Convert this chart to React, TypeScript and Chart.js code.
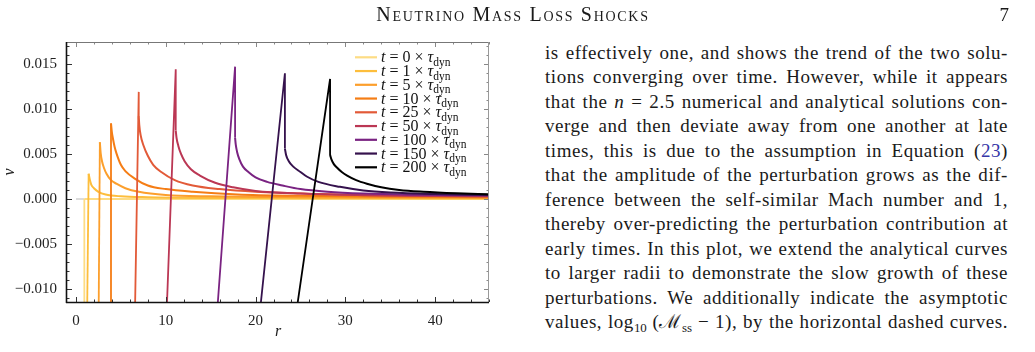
import React, { useEffect, useRef } from "react";
import { Chart, registerables } from "chart.js";

Chart.register(...registerables);

// ---------- data ----------
const TIME_LABELS = ["0", "1", "5", "10", "25", "50", "100", "150", "200"];
const COLORS = ["#fddc84", "#fdbe3c", "#fc9f2c", "#f57d15", "#e25a38", "#bb3754", "#7a2382", "#35124d", "#000000"];

const X_TICKS = [0, 10, 20, 30, 40];
const Y_TICKS = [-0.01, -0.005, 0, 0.005, 0.01, 0.015];
const Y_TICK_LABELS = ["\u22120.010", "\u22120.005", "0.000", "0.005", "0.010", "0.015"];

const PRE_R = [0, 0.93];
const PRE_V = [0, 0];

const T0_SPIKE_R = [0.93, 0.93];
const T0_SPIKE_V = [-0.012, 0];
const T0_R = [0.93, 46];
const T0_V = [0, 0];

const T1_SPIKE_R = [1.25, 1.41];
const T1_SPIKE_V = [-0.012, 0.0028];
const T1_R = [1.41, 1.55, 1.7, 2.0, 2.5, 3.3, 5, 8, 15, 30, 46];
const T1_V = [0.0028, 0.0021, 0.0016, 0.0012, 0.0008, 0.0005, 0.0003, 0.0002, 0.00012, 0.00008, 0.00006];

const T5_SPIKE_R = [2.53, 2.66];
const T5_SPIKE_V = [-0.012, 0.0063];
const T5_R = [2.66, 2.75, 2.9, 3.1, 3.4, 3.9, 4.5, 5.5, 7, 10, 15, 25, 46];
const T5_V = [0.0063, 0.0051, 0.0042, 0.0035, 0.0028, 0.0021, 0.0017, 0.0012, 0.0008, 0.00045, 0.0003, 0.0002, 0.00013];

const T10_SPIKE_R = [3.82, 3.9];
const T10_SPIKE_V = [-0.012, 0.0084];
const T10_R = [3.9, 4.0, 4.1, 4.3, 4.5, 5.0, 5.5, 6.5, 8, 10, 13, 18, 25, 35, 46];
const T10_V = [0.0084, 0.0074, 0.0068, 0.0058, 0.0051, 0.0038, 0.0031, 0.0023, 0.0015, 0.0011, 0.0008, 0.0005, 0.00035, 0.00025, 0.0002];

const T25_SPIKE_R = [6.58, 6.99, 6.99];
const T25_SPIKE_V = [-0.012, 0.0119, 0.0092];
const T25_R = [6.99, 7.05, 7.2, 7.5, 8, 8.6, 9.5, 11, 13, 16, 20, 27, 35, 46];
const T25_V = [0.0092, 0.0082, 0.0071, 0.006, 0.0048, 0.0038, 0.003, 0.0021, 0.0015, 0.0011, 0.0008, 0.00055, 0.0004, 0.0003];

const T50_SPIKE_R = [10.12, 11.11, 11.11];
const T50_SPIKE_V = [-0.012, 0.0144, 0.0076];
const T50_R = [11.11, 11.2, 11.4, 11.7, 12.1, 12.8, 13.8, 15.5, 17.5, 20, 25, 32, 40, 46];
const T50_V = [0.0076, 0.0068, 0.0059, 0.005, 0.0042, 0.0033, 0.0026, 0.0018, 0.0013, 0.0009, 0.0006, 0.00042, 0.00033, 0.0003];

const T100_SPIKE_R = [15.76, 17.72, 17.72];
const T100_SPIKE_V = [-0.012, 0.0147, 0.0068];
const T100_R = [17.72, 17.8, 17.95, 18.2, 18.6, 19.2, 20, 21.3, 23, 25, 28, 32, 38, 46];
const T100_V = [0.0068, 0.006, 0.0052, 0.0044, 0.0036, 0.003, 0.0024, 0.0019, 0.0015, 0.0011, 0.0008, 0.0006, 0.00047, 0.00038];

const T150_SPIKE_R = [20.54, 23.27, 23.27];
const T150_SPIKE_V = [-0.012, 0.01397, 0.0056];
const T150_R = [23.27, 23.4, 23.7, 24.2, 25, 25.7, 27, 29.4, 32, 35, 40, 46];
const T150_V = [0.0056, 0.0049, 0.0042, 0.0036, 0.003, 0.0025, 0.0019, 0.00135, 0.00095, 0.00072, 0.00055, 0.00045];

const T200_SPIKE_R = [24.62, 28.3, 28.3];
const T200_SPIKE_V = [-0.012, 0.01333, 0.0049];
const T200_R = [28.3, 28.45, 28.7, 29.06, 29.6, 30.2, 31.2, 32.4, 34, 36, 38.7, 42.4, 46];
const T200_V = [0.0049, 0.0044, 0.0039, 0.0035, 0.003, 0.0026, 0.0021, 0.0017, 0.0013, 0.001, 0.0008, 0.00063, 0.00052];

const SPIKES: [number[], number[]][] = [
  [T0_SPIKE_R, T0_SPIKE_V], [T1_SPIKE_R, T1_SPIKE_V], [T5_SPIKE_R, T5_SPIKE_V],
  [T10_SPIKE_R, T10_SPIKE_V], [T25_SPIKE_R, T25_SPIKE_V], [T50_SPIKE_R, T50_SPIKE_V],
  [T100_SPIKE_R, T100_SPIKE_V], [T150_SPIKE_R, T150_SPIKE_V], [T200_SPIKE_R, T200_SPIKE_V],
];
const TAILS: [number[], number[]][] = [
  [T0_R, T0_V], [T1_R, T1_V], [T5_R, T5_V], [T10_R, T10_V], [T25_R, T25_V],
  [T50_R, T50_V], [T100_R, T100_V], [T150_R, T150_V], [T200_R, T200_V],
];

const SERIF = '"Liberation Serif", "Times New Roman", serif';
const pts = (r: number[], v: number[]) => r.map((x, i) => ({ x, y: v[i] }));

const framePlugin = {
  id: "mmaFrame",
  afterDraw(chart: any) {
    const { ctx, chartArea, scales } = chart;
    const { left, right, top, bottom } = chartArea;
    const xs = scales.x;
    const ys = scales.y;
    ctx.save();
    const seg = (x1: number, y1: number, x2: number, y2: number, c: string, w: number) => {
      ctx.beginPath();
      ctx.strokeStyle = c;
      ctx.lineWidth = w;
      ctx.moveTo(x1, y1);
      ctx.lineTo(x2, y2);
      ctx.stroke();
    };
    // x ticks (major every 10, minor every 2)
    for (let k = 0; k <= 46; k += 2) {
      const px = Math.round(xs.getPixelForValue(k)) + 0.5;
      const len = k % 10 === 0 ? 5 : 2.5;
      seg(px, bottom, px, bottom - len, "#333", 1);
      seg(px, top, px, top + len, "#888", 1);
    }
    // y ticks (major every 0.005, minor every 0.001)
    for (let k = -11; k <= 17; k++) {
      const py = Math.round(ys.getPixelForValue(k / 1000)) + 0.5;
      const len = k % 5 === 0 ? 5 : 2.5;
      seg(left, py, left + len, py, "#333", 1);
      seg(right, py, right - len, py, "#888", 1);
    }
    // frame
    seg(left, top + 0.5, right, top + 0.5, "#777", 1);
    seg(right - 0.5, top, right - 0.5, bottom, "#999", 1);
    seg(left - 0.5, top, left - 0.5, bottom + 1, "#111", 1.6);
    seg(left - 1, bottom + 0.5, right, bottom + 0.5, "#111", 1.6);

    // axis titles
    ctx.fillStyle = "#222";
    ctx.font = `italic 16px ${SERIF}`;
    ctx.textAlign = "center";
    ctx.textBaseline = "middle";
    ctx.fillText("r", (left + right) / 2, 332);
    ctx.save();
    ctx.translate(10, (top + bottom) / 2);
    ctx.rotate(-Math.PI / 2);
    ctx.fillText("v", 0, 0);
    ctx.restore();

    // legend
    const lx0 = 355, lx1 = 377, tx = 381;
    TIME_LABELS.forEach((lab, i) => {
      const cy = 57.3 + i * 13.75;
      seg(lx0, cy, lx1, cy, COLORS[i], 2.2);
      const base = cy + 5;
      let x = tx;
      ctx.textAlign = "left";
      ctx.textBaseline = "alphabetic";
      ctx.fillStyle = "#111";
      ctx.font = `italic 16px ${SERIF}`;
      ctx.fillText("t", x, base);
      x += ctx.measureText("t").width;
      ctx.font = `16px ${SERIF}`;
      const mid = " = " + lab + " \u00d7 ";
      ctx.fillText(mid, x, base);
      x += ctx.measureText(mid).width;
      ctx.font = `italic 16px ${SERIF}`;
      ctx.fillText("\u03c4", x, base);
      x += ctx.measureText("\u03c4").width;
      ctx.font = `11.5px ${SERIF}`;
      ctx.fillText("dyn", x, base + 3.5);
    });
    ctx.restore();
  },
};

function PlotCanvas() {
  const ref = useRef<HTMLCanvasElement | null>(null);
  useEffect(() => {
    if (!ref.current) return;
    const n = TIME_LABELS.length;
    const datasets: any[] = [
      {
        label: "pre",
        data: pts(PRE_R, PRE_V),
        borderColor: "#dcdcdc",
        borderWidth: 2,
        pointRadius: 0,
        tension: 0,
        clip: 0,
        order: n + 2,
      },
    ];
    for (let i = 0; i < n; i++) {
      datasets.push({
        label: "spike " + TIME_LABELS[i],
        data: pts(SPIKES[i][0], SPIKES[i][1]),
        borderColor: COLORS[i],
        borderWidth: 1.8,
        pointRadius: 0,
        tension: 0,
        clip: 0,
        order: n - i,
      });
      datasets.push({
        label: "t = " + TIME_LABELS[i] + " \u00d7 \u03c4dyn",
        data: pts(TAILS[i][0], TAILS[i][1]),
        borderColor: COLORS[i],
        borderWidth: 2,
        pointRadius: 0,
        cubicInterpolationMode: "monotone",
        clip: 0,
        order: n - i,
      });
    }
    const chart = new Chart(ref.current, {
      type: "line",
      data: { datasets },
      options: {
        animation: false,
        responsive: false,
        devicePixelRatio: 1,
        layout: { padding: { top: 42, right: 11, left: 0, bottom: 0 } },
        plugins: { legend: { display: false }, tooltip: { enabled: false } },
        scales: {
          x: {
            type: "linear",
            min: -1,
            max: 46,
            grid: { display: false },
            border: { display: false },
            afterBuildTicks: (s: any) => {
              s.ticks = X_TICKS.map((v) => ({ value: v }));
            },
            afterFit: (s: any) => {
              s.height = 50;
            },
            ticks: {
              padding: 2,
              color: "#222",
              font: { family: SERIF, size: 15 },
              callback: (v: any) => String(v),
            },
          },
          y: {
            type: "linear",
            min: -0.01144,
            max: 0.01744,
            grid: { display: false },
            border: { display: false },
            afterBuildTicks: (s: any) => {
              s.ticks = Y_TICKS.map((v) => ({ value: v }));
            },
            afterFit: (s: any) => {
              s.width = 67;
            },
            ticks: {
              padding: 2,
              color: "#222",
              font: { family: SERIF, size: 15 },
              callback: (v: any) => {
                const idx = Y_TICKS.findIndex((t) => Math.abs(t - v) < 1e-9);
                return idx >= 0 ? Y_TICK_LABELS[idx] : "";
              },
            },
          },
        },
      },
      plugins: [framePlugin],
    });
    return () => chart.destroy();
  }, []);
  return <canvas ref={ref} width={500} height={352} style={{ display: "block" }} />;
}

const P_FONT = 19;
const LINE_H = 24.5;
const BASE1 = 59;

const sub: React.CSSProperties = { fontSize: "0.68em", verticalAlign: "-0.3em", lineHeight: 0, letterSpacing: 0 };

const LINES: React.ReactNode[] = [
  <>is effectively one, and shows the trend of the two solu-</>,
  <>tions converging over time. However, while it appears</>,
  <>that the <i>n</i> = 2.5 numerical and analytical solutions con-</>,
  <>verge and then deviate away from one another at late</>,
  <>times, this is due to the assumption in Equation (<span style={{ color: "#3636a8" }}>23</span>)</>,
  <>that the amplitude of the perturbation grows as the dif-</>,
  <>ference between the self-similar Mach number and 1,</>,
  <>thereby over-predicting the perturbation contribution at</>,
  <>early times. In this plot, we extend the analytical curves</>,
  <>to larger radii to demonstrate the slow growth of these</>,
  <>perturbations. We additionally indicate the asymptotic</>,
  <>values, log<span style={sub}>10</span> (<span>&#x2133;</span><span style={sub}>ss</span> &minus; 1), by the horizontal dashed curves.</>,
];

export default function App() {
  return (
    <div
      style={{
        position: "fixed",
        left: 0,
        top: 0,
        width: 1035,
        height: 352,
        background: "#fff",
        overflow: "hidden",
        fontFamily: SERIF,
        color: "#1a1a1a",
      }}
    >
      <div style={{ position: "absolute", left: 0, top: 0 }}>
        <PlotCanvas />
      </div>
      <div
        style={{
          position: "absolute",
          left: 0,
          width: 1026,
          top: 3,
          textAlign: "center",
          fontSize: 20,
          letterSpacing: 1.7,
          fontVariant: "small-caps",
          lineHeight: "22px",
        }}
      >
        Neutrino Mass Loss Shocks
      </div>
      <div style={{ position: "absolute", right: 26, top: 4, fontSize: 19, lineHeight: "22px" }}>7</div>
      {LINES.map((l, i) => (
        <div
          key={i}
          style={{
            position: "absolute",
            left: 545,
            width: 463,
            top: BASE1 - 18.5 + i * LINE_H,
            height: LINE_H,
            lineHeight: LINE_H + "px",
            fontSize: P_FONT,
            letterSpacing: 0.55,
            textAlign: "justify",
            textAlignLast: "justify",
          }}
        >
          {l}
        </div>
      ))}
    </div>
  );
}
